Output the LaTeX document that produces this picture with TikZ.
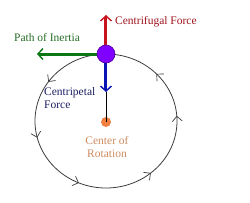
\documentclass[tikz,border=0pt]{standalone}
\usepackage{fontspec}
\setmainfont{Liberation Serif}
\usetikzlibrary{arrows.meta,decorations.markings}
\definecolor{ballc}{RGB}{128,0,255}
\definecolor{ballo}{RGB}{80,0,160}
\definecolor{redc}{RGB}{200,20,30}
\definecolor{redt}{RGB}{160,20,30}
\definecolor{greenc}{RGB}{10,120,20}
\definecolor{greent}{RGB}{40,110,40}
\definecolor{bluec}{RGB}{10,20,180}
\definecolor{bluet}{RGB}{30,30,100}
\definecolor{orangec}{RGB}{240,128,64}
\definecolor{oranget}{RGB}{205,140,95}
\definecolor{circc}{RGB}{60,60,60}
\tikzset{
  lbl/.style={font=\fontsize{11.5}{13}\selectfont, inner sep=0pt},
  force/.style={line width=3pt, -{Straight Barb[length=5pt,width=11pt,line width=1.4pt]}},
  chevtip/.tip={Straight Barb[length=5pt,width=10pt,line width=0.7pt]},
}
\begin{document}
\begin{tikzpicture}[x=1pt,y=1pt]
\useasboundingbox (0,0) rectangle (250,202);
\fill[white] (0,0) rectangle (250,202);
% orbit
\coordinate (oc) at (106,81);
\draw[circc, line width=0.8pt, postaction={decorate}, decoration={markings,
  mark=at position 0.012 with {\arrow{chevtip}},
  mark=at position 0.122 with {\arrow{chevtip}},
  mark=at position 0.403 with {\arrow{chevtip}},
  mark=at position 0.539 with {\arrow{chevtip}},
  mark=at position 0.686 with {\arrow{chevtip}},
  mark=at position 0.861 with {\arrow{chevtip}}}]
  (oc) ++(71,0) arc[start angle=0, end angle=360, x radius=71, y radius=67];
% nodes
\node[circle, fill=orangec, minimum size=10pt, inner sep=0pt] (ctr) at (106,80) {};
\coordinate (redtip) at (106,187);
\coordinate (greentip) at (37,148);
\coordinate (bluetip) at (106,110);
\draw[black, line width=0.8pt] (bluetip) -- (ctr.center);
\draw[force, bluec] (106,148) -- (bluetip);
\draw[force, redc] (106,148) -- (redtip);
\draw[force, greenc] (106,148) -- (greentip);
\node[circle, fill=ballc, draw=ballo, line width=0.6pt, minimum size=18pt, inner sep=0pt] (ball) at (106,148) {};
% labels
\node[lbl, text=redt, anchor=west] (cf) at (115,180) {Centrifugal Force};
\node[lbl, text=greent] (pi) at (47,164) {Path of Inertia};
\node[lbl, text=bluet, align=left, anchor=north west] (cp) at (44,115) {Centripetal\\Force};
\node[lbl, text=oranget, align=center, anchor=north] (cr) at (107,66) {Center of\\Rotation};
\end{tikzpicture}
\end{document}
